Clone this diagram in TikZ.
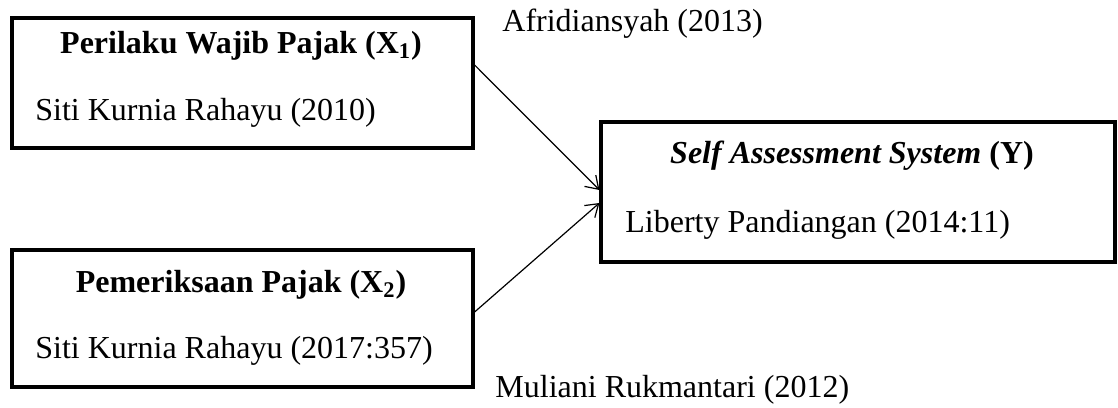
\documentclass[tikz,border=0pt]{standalone}
\usepackage{fontspec}
\setmainfont{Liberation Serif}
\usetikzlibrary{arrows.meta}

\newcommand{\ukuran}{\fontsize{16}{19}\selectfont}

\begin{document}
\begin{tikzpicture}[x=0.5pt,y=-0.5pt]
        % Styles for the boxes, labels and arrows
        \tikzstyle{varbox}=[draw, line width=1.6pt, inner sep=0pt];
        \tikzstyle{judul}=[anchor=base, inner sep=0pt, font=\ukuran\bfseries];
        \tikzstyle{sumber}=[anchor=base west, inner sep=0pt, font=\ukuran];
        \tikzstyle{panah}=[-{Straight Barb[length=6pt,width=8pt]}, line width=0.6pt];

        \useasboundingbox (0,0) rectangle (1118,407);

        % Box X1
        \node[varbox, minimum width=230.5pt, minimum height=65pt] (x1) at (242.5,83) {};
        \node[judul] (jx1) at (241,53) {Perilaku Wajib Pajak (X\textsubscript{1})};
        \node[sumber] (sx1) at (35,120) {Siti Kurnia Rahayu (2010)};

        % Box X2
        \node[varbox, minimum width=230.5pt, minimum height=68.5pt] (x2) at (242.5,318.5) {};
        \node[judul] (jx2) at (241,292) {Pemeriksaan Pajak (X\textsubscript{2})};
        \node[sumber] (sx2) at (35,358) {Siti Kurnia Rahayu (2017:357)};

        % Box Y
        \node[varbox, minimum width=257pt, minimum height=70pt] (y) at (858,192) {};
        \node[judul] (jy) at (852,163) {\textit{Self Assessment System} (Y)};
        \node[sumber] (sy) at (625,232) {Liberty Pandiangan (2014:11)};

        % Sources next to the arrows
        \node[sumber] (ref1) at (502,32) {Afridiansyah (2013)};
        \node[sumber] (ref2) at (495,397) {Muliani Rukmantari (2012)};

        % Arrows
        \draw[panah] ([yshift=9pt]x1.east) -- ([yshift=1pt]y.west);
        \draw[panah] ([yshift=3.25pt]x2.east) -- ([yshift=-5.5pt]y.west);

    \end{tikzpicture}
\end{document}
